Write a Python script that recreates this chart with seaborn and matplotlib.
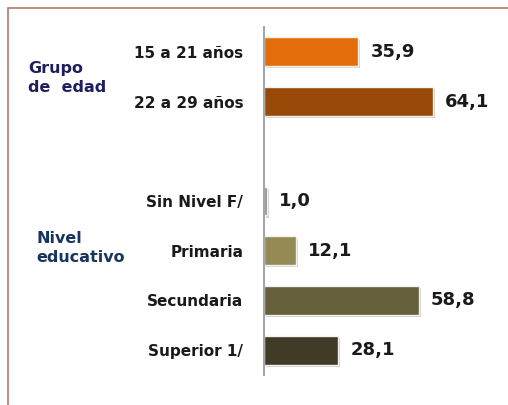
import matplotlib
matplotlib.use("Agg")
import matplotlib.pyplot as plt
import matplotlib.patheffects as pe
from matplotlib.lines import Line2D
import seaborn as sns
import pandas as pd

edad_cats = ["15 a 21 años", "22 a 29 años"]
edad_vals = [35.9, 64.1]
edu_cats = ["Sin Nivel F/", "Primaria", "Secundaria", "Superior 1/"]
edu_vals = [1.0, 12.1, 58.8, 28.1]
colors = ["#E46C0A", "#984807", "#8C8C8C", "#948A54", "#665F3B", "#403A27"]

cats = edad_cats + edu_cats
vals = edad_vals + edu_vals
df = pd.DataFrame({"cat": cats, "val": vals})
spacer = " "
order = edad_cats + [spacer] + edu_cats
palette = dict(zip(cats, colors))

sns.set_style("white")
plt.rcParams["font.family"] = ["DejaVu Sans"]

fig = plt.figure(figsize=(5.08, 4.05), dpi=100)
ax = fig.add_axes([264 / 508, 1 - 375 / 405, 1 - 264 / 508, (375 - 27) / 405])

sns.barplot(data=df, y="cat", x="val", order=order, hue="cat", palette=palette,
            orient="h", width=0.58, saturation=1, legend=False, ax=ax,
            edgecolor="#F2F2F2", linewidth=1)

for p in ax.patches:
    p.set_path_effects([pe.SimplePatchShadow(offset=(1.5, -1.5), alpha=0.2), pe.Normal()])

for c in ax.containers:
    labels = [("" if pd.isna(v) else f"{v:.1f}".replace(".", ",")) for v in c.datavalues]
    ax.bar_label(c, labels=labels, padding=9, fontsize=13, fontweight="bold", color="#1A1A1A")

ax.set_xlim(0, 92.8)
ax.set_ylim(6.5, -0.5)
ax.set_xlabel("")
ax.set_ylabel("")
ax.set_xticks([])
ax.tick_params(axis="y", length=0, pad=15)
for t in ax.get_yticklabels():
    t.set_fontweight("bold")
    t.set_fontsize(11)
    t.set_color("#1A1A1A")
for s in ["top", "right", "bottom"]:
    ax.spines[s].set_visible(False)
ax.spines["left"].set_color("#A6A6A6")
ax.spines["left"].set_linewidth(1.5)
ax.patch.set_alpha(0)

fig.text(28 / 508, 1 - 78 / 405, "Grupo\nde  edad", fontsize=11.5, fontweight="bold",
         color="#1F1F5F", va="center", ha="left", linespacing=1.3)
fig.text(36 / 508, 1 - 248 / 405, "Nivel\neducativo", fontsize=11.5, fontweight="bold",
         color="#17365D", va="center", ha="left", linespacing=1.3)

fig.add_artist(Line2D([8 / 508, 1], [1 - 8 / 405, 1 - 8 / 405], color="#B07A6A", lw=1.2,
                      transform=fig.transFigure))
fig.add_artist(Line2D([8 / 508, 8 / 508], [0, 1 - 8 / 405], color="#B07A6A", lw=1.2,
                      transform=fig.transFigure))

fig.savefig("out.png", dpi=100)
